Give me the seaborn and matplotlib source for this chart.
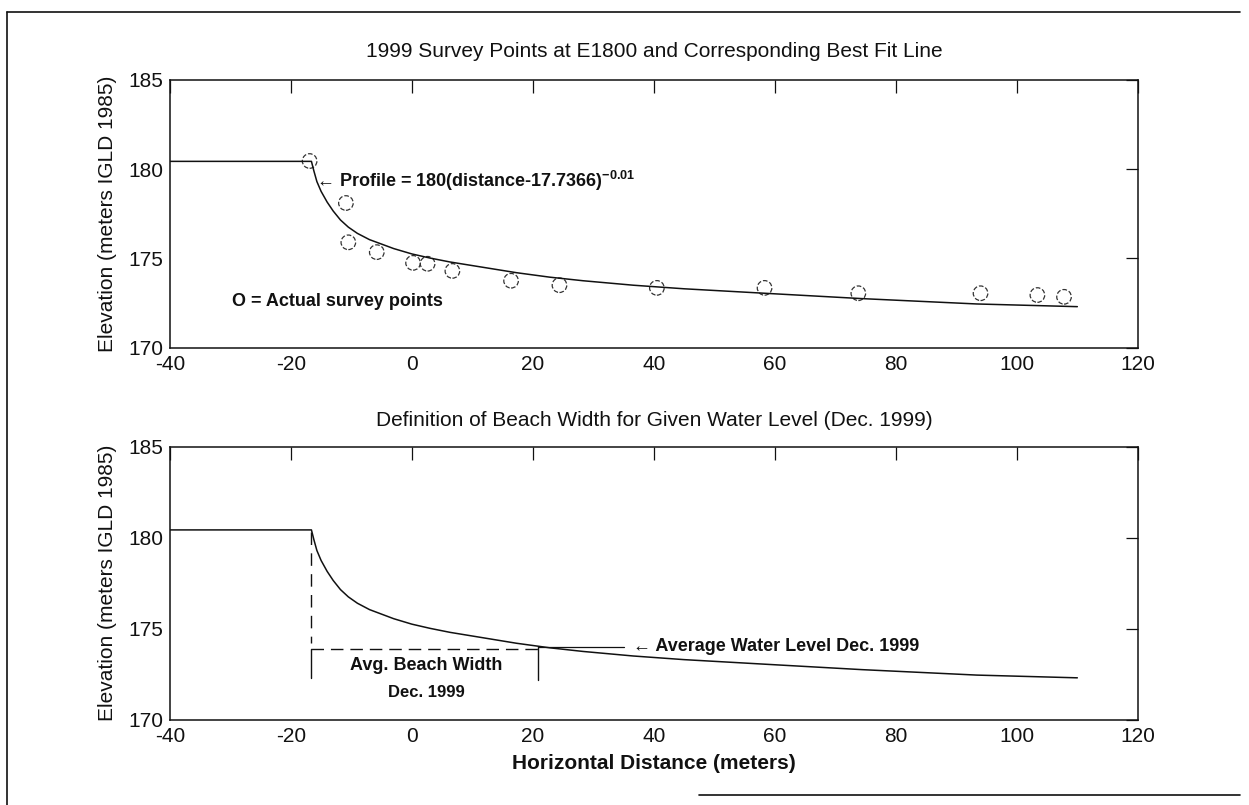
import numpy as np
import pandas as pd
import matplotlib
matplotlib.use("Agg")
import matplotlib.pyplot as plt
from matplotlib.lines import Line2D
import seaborn as sns

# survey points
survey_x = [-16.9, -10.9, -10.5, -5.8, 0.2, 2.6, 6.7, 16.4, 24.4, 40.5, 58.3, 73.8, 94.0, 103.4, 107.8]
survey_y = [180.45, 178.1, 175.9, 175.35, 174.75, 174.7, 174.3, 173.75, 173.5, 173.35, 173.35, 173.05, 173.05, 172.95, 172.85]

# best fit profile (same line in both panels)
fit_x = [-40, -16.6, -16.2, -15.7, -15.0, -14.0, -13.0, -11.8, -10.5, -9.0, -7.0, -5.0, -3.0, 0.0,
         3.0, 6.3, 11.8, 17.3, 22.8, 28.3, 36.6, 45.0, 58.3, 74.4, 93.4, 110]
fit_y = [180.43, 180.43, 179.9, 179.3, 178.75, 178.15, 177.65, 177.15, 176.75, 176.4, 176.05, 175.8,
         175.55, 175.25, 175.02, 174.8, 174.5, 174.2, 173.95, 173.75, 173.5, 173.3, 173.05, 172.75,
         172.45, 172.3]

# beach width construction (bottom panel)
shore_x = -16.6
water_x_end = 20.9
water_level = 173.9
level_line_end = 35.0

x_ticks = [-40, -20, 0, 20, 40, 60, 80, 100, 120]
y_ticks = [170, 175, 180, 185]

survey = pd.DataFrame({"x": survey_x, "y": survey_y})
fit = pd.DataFrame({"x": fit_x, "y": fit_y})

sns.set_style("white")
plt.rcParams["font.family"] = ["Liberation Sans", "DejaVu Sans"]
plt.rcParams["axes.unicode_minus"] = False
plt.rcParams["mathtext.fontset"] = "custom"
plt.rcParams["mathtext.bf"] = "Liberation Sans:bold"
plt.rcParams["mathtext.rm"] = "Liberation Sans"

fig = plt.figure(figsize=(12.49, 8.05), dpi=100)
ax1 = fig.add_axes([0.136, 0.568, 0.775, 0.333])
ax2 = fig.add_axes([0.136, 0.106, 0.775, 0.339])

ink = "#111111"

for ax in (ax1, ax2):
    sns.lineplot(data=fit, x="x", y="y", ax=ax, color=ink, linewidth=1.1,
                 estimator=None, sort=False, legend=False)
    ax.set_xlim(-40, 120)
    ax.set_ylim(170, 185)
    ax.set_xticks(x_ticks)
    ax.set_yticks(y_ticks)
    ax.tick_params(direction="in", length=9, width=0.9, top=True, right=True,
                   labelsize=15, colors=ink, pad=5)
    for s in ax.spines.values():
        s.set_linewidth(1.1)
        s.set_color(ink)
    ax.set_xlabel("")
    ax.set_ylabel("Elevation (meters IGLD 1985)", fontsize=15, color=ink, labelpad=8)

# top panel: survey points
sns.scatterplot(data=survey, x="x", y="y", ax=ax1, s=110, marker="o",
                facecolor="none", edgecolor="#333333", linewidth=0.9, linestyle="--")
ax1.set_xlabel("")
ax1.set_ylabel("Elevation (meters IGLD 1985)", fontsize=15, color=ink, labelpad=8)
ax1.text(-15.8, 179.35, "\u2190 Profile = 180(distance-17.7366)$^{\\mathbf{-0.01}}$",
         fontsize=13, fontweight="bold", color=ink, va="center", ha="left")
ax1.text(-29.8, 172.6, "O = Actual survey points", fontsize=13, fontweight="bold",
         color=ink, va="center", ha="left")

# bottom panel: beach width construction
ax2.plot([shore_x, shore_x], [180.3, 174.2], color=ink, linewidth=1.0, linestyle=(0, (9, 6)))
ax2.plot([shore_x, shore_x], [water_level, 172.3], color=ink, linewidth=1.0)
ax2.plot([shore_x, water_x_end], [water_level, water_level], color=ink, linewidth=1.0,
         linestyle=(0, (9, 5)))
ax2.plot([water_x_end, water_x_end], [174.0, 172.2], color=ink, linewidth=1.0)
ax2.plot([water_x_end, level_line_end], [174.0, 174.0], color=ink, linewidth=0.9)
ax2.text(36.6, 174.0, "\u2190 Average Water Level Dec. 1999", fontsize=13,
         fontweight="bold", color=ink, va="center", ha="left")
ax2.text(2.4, 173.0, "Avg. Beach Width", fontsize=13, fontweight="bold",
         color=ink, va="center", ha="center")
ax2.text(2.4, 171.5, "Dec. 1999", fontsize=12, fontweight="bold",
         color=ink, va="center", ha="center")
ax2.set_xlabel("Horizontal Distance (meters)", fontsize=15, fontweight="bold",
               color=ink, labelpad=6)

fig.text(0.524, 0.936, "1999 Survey Points at E1800 and Corresponding Best Fit Line",
         fontsize=15, color=ink, ha="center", va="center")
fig.text(0.524, 0.478, "Definition of Beach Width for Given Water Level (Dec. 1999)",
         fontsize=15, color=ink, ha="center", va="center")

# scanned page frame
fig.add_artist(Line2D([0.006, 0.006], [0.0, 0.985], transform=fig.transFigure, color=ink, linewidth=1.2))
fig.add_artist(Line2D([0.006, 0.993], [0.985, 0.985], transform=fig.transFigure, color=ink, linewidth=1.2))
fig.add_artist(Line2D([0.56, 0.993], [0.012, 0.012], transform=fig.transFigure, color=ink, linewidth=1.2))

fig.savefig("out.png", dpi=100, facecolor="white")
